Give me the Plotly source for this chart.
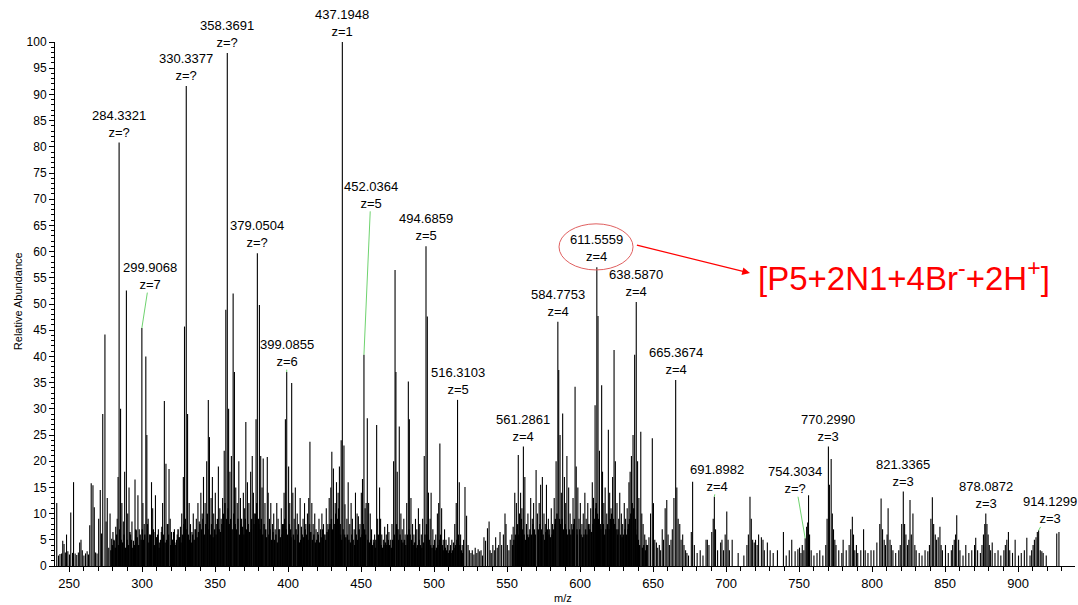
import plotly.graph_objects as go

# ---------------- data ----------------
peak_mz = [
    241.6, 242.8, 243.8, 244.9, 245.7, 246.6, 247.5, 248.3, 249.2, 250.3, 251.2, 252.4, 253.1, 254.2, 255.3,
    256.4, 257.3, 258.2, 259.1, 260.2, 261.3, 262.4, 263.3, 264.2, 265.2, 266.4, 267.3, 268.2, 269.2, 270.3,
    271.4, 272.3, 273.1, 274.6, 275.4, 276.2, 277.2, 278.1, 279.2, 280.1, 281.0, 282.0, 283.0, 283.6, 284.3,
    285.3, 286.2, 287.2, 288.1, 289.3, 290.2, 291.1, 292.2, 293.1, 294.2, 295.2, 296.1, 297.2, 298.1, 299.9,
    300.6, 301.5, 302.6, 303.3, 304.2, 305.2, 306.5, 307.3, 308.2, 309.2, 310.2, 311.2, 312.1, 313.2, 314.1,
    315.3, 316.4, 317.3, 318.5, 319.3, 320.2, 321.1, 322.2, 323.3, 324.1, 325.2, 326.3, 327.2, 328.3, 329.1,
    330.3, 331.2, 332.3, 333.2, 334.2, 335.1, 336.3, 337.2, 338.3, 339.2, 340.3, 341.2, 342.1, 343.2, 344.3,
    345.4, 346.2, 347.3, 348.2, 349.1, 350.2, 351.2, 352.3, 353.3, 354.2, 355.2, 356.3, 357.4, 358.4, 359.3,
    360.2, 361.2, 362.4, 363.3, 364.2, 365.2, 366.3, 367.4, 368.2, 369.4, 370.3, 371.1, 372.2, 373.2, 374.4,
    375.5, 376.3, 377.2, 378.1, 379.0, 380.4, 381.3, 382.2, 383.0, 384.2, 385.8, 386.4, 387.3, 388.2, 389.3,
    390.2, 391.2, 392.3, 393.2, 394.3, 395.4, 396.2, 397.3, 398.2, 399.1, 400.4, 401.2, 402.5, 403.3, 404.2,
    405.0, 406.3, 407.2, 408.3, 409.2, 410.3, 411.3, 412.2, 413.3, 414.2, 415.0, 416.3, 417.2, 418.3, 419.2,
    420.3, 421.2, 422.3, 423.2, 424.3, 425.4, 426.2, 427.3, 428.2, 429.3, 430.0, 431.1, 432.3, 433.2, 434.3,
    435.2, 436.4, 437.2, 438.3, 439.0, 440.3, 441.2, 442.3, 443.2, 444.1, 445.3, 446.2, 447.3, 448.2, 449.3,
    450.2, 451.0, 452.0, 452.8, 453.5, 454.3, 455.2, 456.3, 457.2, 458.4, 459.3, 460.7, 461.4, 462.7, 463.4,
    464.2, 465.3, 466.2, 467.3, 468.2, 469.1, 470.3, 471.2, 472.3, 473.3, 473.9, 474.8, 476.2, 477.3, 478.2,
    479.3, 480.2, 481.3, 482.4, 483.1, 484.2, 485.3, 486.2, 487.3, 488.2, 489.3, 490.2, 491.3, 492.2, 493.3,
    494.5, 495.4, 496.2, 497.3, 498.0, 499.2, 500.3, 501.2, 502.3, 503.2, 504.0, 505.2, 506.3, 507.2, 508.2,
    509.3, 510.2, 511.3, 512.2, 513.3, 514.2, 515.2, 516.1, 517.3, 518.2, 519.3, 520.2, 521.2, 522.3, 523.3,
    524.2, 525.3, 526.2, 527.3, 528.2, 529.3, 530.2, 531.3, 532.2, 533.2, 534.2, 535.3, 536.6, 537.7, 538.4,
    539.2, 540.3, 541.3, 542.2, 543.3, 544.3, 545.2, 546.3, 547.5, 548.6, 549.3, 550.2, 551.3, 552.2, 553.3,
    554.2, 555.3, 556.4, 557.7, 558.5, 559.3, 560.2, 561.2, 562.2, 563.3, 564.3, 565.2, 566.2, 567.3, 568.2,
    569.9, 570.8, 572.0, 573.0, 574.2, 575.3, 576.2, 577.0, 578.3, 579.2, 580.3, 581.2, 582.3, 583.6, 584.8,
    585.4, 586.3, 587.2, 588.1, 589.3, 590.2, 591.0, 592.2, 593.2, 594.3, 595.2, 596.6, 597.4, 598.5, 599.3,
    600.2, 601.3, 602.2, 603.3, 604.2, 605.3, 606.2, 607.3, 608.4, 609.2, 610.3, 611.5, 612.3, 613.3, 614.8,
    615.4, 616.3, 617.2, 618.3, 619.4, 620.3, 621.2, 622.3, 623.3, 624.2, 625.3, 626.5, 627.2, 628.3, 629.2,
    630.3, 631.2, 632.3, 633.5, 634.3, 635.2, 636.3, 637.4, 638.5, 639.4, 640.3, 641.6, 642.3, 643.2, 644.3,
    645.2, 646.3, 647.2, 648.3, 649.5, 650.3, 651.2, 652.3, 653.2, 654.3, 655.2, 656.3, 657.2, 658.3, 659.4,
    660.3, 661.2, 662.3, 663.2, 664.3, 665.5, 666.3, 667.2, 668.3, 669.2, 670.3, 671.2, 672.3, 673.2, 674.3,
    676.2, 677.1, 678.3, 680.2, 682.3, 684.2, 686.3, 687.2, 688.3, 690.2, 691.2, 692.0, 692.8, 694.2, 696.3,
    697.2, 698.3, 699.4, 700.5, 701.4, 702.3, 704.2, 708.3, 712.2, 714.3, 715.3, 716.4, 717.3, 718.2, 719.3,
    720.2, 721.3, 722.3, 724.2, 725.3, 726.2, 728.3, 730.2, 732.3, 735.2, 739.3, 741.2, 743.3, 745.0, 747.3,
    749.2, 750.3, 751.3, 752.2, 753.3, 754.2, 755.2, 755.9, 756.5, 757.2, 758.3, 760.2, 762.3, 764.2, 766.3,
    768.3, 769.2, 770.1, 770.8, 772.0, 772.8, 773.6, 774.5, 775.3, 777.2, 779.3, 780.2, 782.3, 784.3, 785.4,
    786.5, 787.3, 788.2, 789.3, 790.2, 792.3, 794.2, 795.3, 797.2, 799.3, 801.2, 803.3, 805.3, 806.2, 807.2,
    808.3, 809.2, 810.3, 811.0, 812.3, 813.2, 814.3, 816.2, 818.3, 819.3, 820.3, 821.4, 822.3, 823.2, 824.3,
    825.2, 826.0, 826.9, 828.0, 829.3, 830.2, 832.3, 834.2, 836.3, 838.2, 839.3, 840.3, 841.3, 842.2, 843.3,
    844.2, 845.3, 846.5, 847.3, 848.2, 850.3, 852.2, 854.3, 855.2, 856.3, 857.2, 858.0, 859.3, 860.2, 862.3,
    864.2, 866.3, 868.3, 870.2, 871.0, 872.3, 874.2, 875.3, 876.3, 877.2, 877.9, 878.7, 879.5, 880.3, 881.2,
    882.3, 884.2, 886.3, 888.2, 890.3, 891.3, 892.3, 893.4, 894.3, 896.2, 898.0, 900.3, 902.2, 904.3, 906.0,
    908.2, 909.3, 910.3, 911.2, 912.3, 913.2, 914.1, 915.2, 916.3, 917.2, 919.3, 926.5, 928.0,
]
peak_int = [
    12, 2, 2.3, 2.4, 4.8, 4.2, 2.6, 6, 2.8, 2.2, 10.2, 2.5, 16, 2.4, 2.1,
    2.6, 4.5, 5.0, 3.0, 2.0, 2.4, 2.8, 2.2, 7.8, 15.8, 15.4, 11.2, 2.6, 2.4, 9.0,
    14.5, 6.2, 29, 44.2, 8.5, 13, 3.5, 10, 5.2, 6.5, 4.8, 7.5, 9.0, 17, 80.8,
    30, 12, 8.5, 18, 52.6, 10, 15, 6, 8.5, 4.8, 16.5, 6.8, 13.5, 7, 45.4,
    12, 8, 40, 25, 9, 6, 16, 11, 6.5, 13.5, 5.5, 7, 4.5, 6.5, 12,
    31.5, 19.5, 8, 18.5, 9, 6.5, 5, 7, 4.5, 6, 5.5, 7.5, 10, 17, 45.7,
    91.6, 29, 12, 8, 6.5, 10, 7, 9, 12, 8.5, 14, 10, 17, 12, 20,
    31.7, 24.6, 13, 17, 10, 14, 8, 19, 11, 9, 13, 22, 48.9, 97.9, 30,
    18, 21, 52, 37, 15, 12, 20, 13, 9, 14, 11, 27.5, 16, 12, 18,
    21, 14, 10, 28, 59.7, 49.8, 21, 15, 20.5, 12, 20.8, 14, 9, 12, 8,
    10, 7, 12, 9, 7, 11, 8, 14, 28, 37, 19, 12, 34.9, 14, 9,
    15, 10, 8, 13, 7.5, 9, 12, 8, 10, 13, 23.7, 12, 8, 10, 7,
    6.5, 9, 7, 10, 8, 6, 11, 8, 13, 15, 21.8, 18.6, 12, 16, 14,
    19, 24, 100, 23, 11.8, 9, 16, 8, 12, 9, 7, 14, 10, 9.5, 8,
    14, 16.6, 40.3, 11, 12, 28.2, 12, 10, 7, 5, 6, 26.9, 9, 15, 9,
    6, 5, 7.5, 6, 8, 6.5, 5, 8, 20, 56.5, 37, 18, 26.6, 10, 7,
    9, 6, 12, 35.2, 28, 13, 8, 6, 9, 7, 11, 8, 6, 9, 21,
    61, 47.6, 14, 9, 14, 7, 5, 6, 10, 12, 23.4, 11, 5, 7, 5,
    4, 5.5, 4, 5, 4.5, 8, 12, 31.7, 16, 6, 4, 5, 15.1, 9.6, 4,
    3, 2.5, 3, 2.2, 3.5, 2.5, 3.2, 2.8, 3, 2, 5.5, 4.8, 7.2, 8.5, 3,
    2.5, 4, 3, 5.5, 3.5, 4, 6.5, 4, 6, 10, 8, 4, 3, 5, 6,
    7.5, 14, 12, 21.2, 10, 14, 11, 22.8, 17, 8, 10, 6, 13, 9, 12,
    18.3, 10, 12, 15.5, 17, 10, 8, 15.5, 9, 7, 11, 8, 13, 20, 46.6,
    37.4, 25, 14, 29.1, 17, 12, 21, 15, 10, 8, 13, 34.2, 19, 15, 9,
    12, 8, 10, 14, 9, 12, 8, 11, 16, 13, 30.7, 57, 47.7, 22, 34.5,
    18, 12, 15, 10, 26, 14, 11, 17, 41.2, 20, 12, 9, 14, 10, 8,
    12, 9, 11, 16, 18, 21, 25, 40.3, 50.4, 20, 13, 25.6, 10, 8, 6,
    5, 4, 5.5, 10, 24.4, 12, 5, 4.5, 3.5, 4, 3, 7, 5, 11, 12.6,
    6, 4, 5, 7, 13, 35.5, 15, 9, 8, 5, 6, 4, 3, 2.5, 2,
    6.5, 16.1, 4, 2.5, 3, 2, 5, 5, 4, 6.5, 9, 13.2, 7, 3, 4.5,
    5, 3, 6, 10.4, 5, 3, 5, 2.5, 2, 4, 6, 13.2, 9, 5, 4.5,
    5, 4, 6, 5.5, 5, 3, 4.5, 3, 2.5, 3, 6.5, 2, 3, 5, 2.8,
    3.2, 3.5, 2.5, 4, 3, 5.3, 7.5, 8.3, 13.5, 6, 3, 2, 2.5, 3, 2,
    4, 9, 22.8, 15.5, 20.4, 10, 7, 5, 4, 3, 2.5, 5, 3, 4, 7,
    9.4, 6, 3, 4, 2.5, 3, 7, 3, 2.5, 3, 3, 4.5, 8, 12.9, 7,
    5, 4, 6, 11, 5, 4, 3, 2.5, 3, 4, 8, 14.2, 8, 6, 4,
    5, 12.6, 6, 10, 4, 3, 2.5, 2, 3, 2.8, 4, 9, 13.1, 8, 6,
    5, 5.5, 7.5, 4, 3, 4, 2.5, 3, 4, 5, 6, 9.7, 5, 3, 2,
    4, 2.5, 3, 4, 5.4, 3, 2.5, 4, 6, 8, 10, 8, 6, 4, 3,
    4.5, 2.5, 3, 2, 3, 4, 5, 6.5, 3, 2.5, 5, 2, 2.5, 3, 5.4,
    2, 3, 4, 5, 5.5, 6.5, 6.8, 3, 2.8, 2.5, 2, 6.2, 6.5,
]

# dense low-level background peaks (the black "floor" of the spectrum)
floor_mz = [
    278.7, 279.7, 280.7, 281.7, 282.7, 283.9, 284.7, 285.7, 286.7, 287.7, 288.7, 289.8, 290.7, 291.7, 292.7,
    293.7, 294.7, 295.7, 296.7, 297.7, 298.7, 299.4,
    300.2, 301.1, 301.9, 303.7, 304.7, 305.7, 306.1, 307.7, 308.7, 309.7, 310.7, 311.7, 312.7, 313.7, 314.7,
    315.8, 316.9, 317.7, 318.1, 319.7,
    320.7, 321.7, 322.7, 323.7, 324.7, 325.7, 326.7, 327.7, 328.7, 329.6, 330.8, 331.7, 332.7, 333.7, 334.7,
    335.7, 336.7, 337.7, 338.7, 339.7,
    340.7, 341.7, 342.6, 343.7, 344.7, 345.9, 346.7, 347.7, 348.7, 349.7, 350.7, 351.7, 352.8, 353.7, 354.7,
    355.7, 356.8, 357.9, 358.9, 359.7,
    360.7, 361.7, 362.9, 363.8, 364.7, 365.7, 366.8, 367.8, 368.7, 369.8, 370.7, 371.6, 372.7, 373.7, 374.9,
    375.1, 376.7, 377.7, 378.6, 379.6,
    380.0, 380.9, 381.7, 382.7, 383.6, 384.7, 385.3, 386.9, 387.7, 388.7, 389.7, 390.7, 391.7, 392.7, 393.7,
    394.7, 395.9, 396.7, 397.8, 398.7,
    399.6, 400.9, 401.7, 402.1, 403.7, 404.7, 405.5, 406.7, 407.7, 408.7, 409.7, 410.7, 411.7, 412.7, 413.7,
    414.7, 415.6, 416.7, 417.7, 418.7,
    419.7, 420.7, 421.7, 422.7, 423.7, 424.7, 425.8, 426.7, 427.7, 428.7, 429.7, 430.5, 431.6, 432.7, 433.7,
    434.7, 435.7, 436.0, 436.8, 437.7, 438.7, 439.6, 440.7, 441.7, 442.7, 443.7, 444.6, 445.7,
    446.7, 447.7, 448.7, 449.7, 450.7, 451.5, 452.4, 453.1, 454.7, 455.7,
    456.7, 457.7, 458.9, 459.8, 460.2, 461.8, 462.2, 463.8, 464.7, 465.7,
    466.7, 467.7, 468.7, 469.6, 470.7, 471.7, 472.8, 474.3, 475.3, 475.8,
    476.7, 477.7, 478.7, 479.7, 480.7, 481.8, 482.9, 483.6, 484.7, 485.7,
    486.7, 487.7, 488.7, 489.8, 490.7, 491.7, 492.7, 493.8, 494.9, 495.9,
    496.7, 497.7, 498.6, 499.7, 500.7, 501.7, 502.7, 503.7, 504.5, 505.7,
    506.7, 507.7, 508.7, 509.7, 510.7, 511.7, 512.7, 513.7, 514.7, 515.7,
    516.6, 517.7, 518.7, 519.7,
    553.8, 554.7, 555.8, 556.9, 557.2, 558.0, 558.9, 559.8, 560.7, 561.7,
    562.7, 563.8, 564.8, 565.7, 566.7, 567.8, 568.7, 569.3, 571.4, 572.5,
    573.5, 574.7, 575.8, 576.6, 577.6, 578.8, 579.7, 580.8, 581.7, 582.8,
    583.1, 584.2, 585.9, 586.8, 587.7, 588.6, 589.8, 590.6, 591.6, 592.7,
    593.7, 594.8, 595.7, 596.1, 597.9, 598.0, 599.8, 600.7, 601.8, 602.7,
    603.8, 604.7, 605.8, 606.7, 607.8, 608.9, 609.7, 610.8, 611.1, 611.9,
    612.8, 613.8, 614.3, 615.9, 616.8, 617.7, 618.8, 619.9, 620.8, 621.7,
    622.8, 623.8, 624.7, 625.8, 626.0, 627.7, 628.8, 629.7, 630.8, 631.7,
    632.8, 633.1, 633.9, 634.8, 635.7, 636.8, 637.9, 638.0, 638.9, 639.9,
    640.8, 642.8, 643.7, 644.8, 645.7,
]
floor_int = [
    3, 4, 5, 3.5, 6, 4, 7, 5, 4.5, 6, 3.5, 5, 4, 6.5, 5,
    3.5, 4, 7, 5.5, 4, 6, 5,
    7, 5, 6, 8, 4.5, 6, 5, 7, 4, 5.5, 6, 3.5, 5, 7.5, 6,
    4.5, 5, 8, 6, 4,
    5, 6.5, 4, 5, 7, 5.5, 4.5, 6, 8, 9, 7, 6, 5, 4.5, 6,
    5, 7, 5.5, 6.5, 8,
    7, 9, 6, 8, 10, 7, 6, 8, 5.5, 7, 6, 9, 7, 6.5, 8,
    10, 12, 9, 11, 8,
    9, 7, 10, 8, 7, 9, 6, 8, 7.5, 6, 9, 7, 8, 6.5, 7,
    9, 8, 10, 12, 9,
    8, 7, 9, 6, 8, 7, 5.5, 6, 7, 5, 6.5, 5, 6, 4.5, 7,
    5.5, 6, 8, 9, 7,
    6, 8, 7, 5.5, 6, 5, 7, 6, 4.5, 5, 6, 5.5, 7, 6, 5,
    8, 6.5, 5, 6, 4.5,
    5, 6, 4.5, 5.5, 7, 6, 5, 6.5, 7, 8, 9, 7, 8, 10, 9,
    11, 8, 6, 5, 7, 6, 5.5, 6, 5, 4.5, 6, 5, 4,
    6, 5, 7, 5.5, 6, 8, 7, 6, 5, 4.5,
    5, 4, 4.5, 3.5, 5, 6, 5, 4, 3.5, 4,
    4.5, 4, 5, 4, 3.5, 5, 6, 8, 7, 5,
    6, 5, 4.5, 5, 4, 6, 7, 6, 5, 4,
    4.5, 3.5, 4, 5, 4, 3.5, 4.5, 6, 8, 6,
    5, 4, 3.5, 4, 3, 3.5, 4, 5, 6, 4,
    3, 3.5, 3, 2.5, 3, 2.5, 3, 3.5, 4, 5,
    6, 4, 3, 2.5,
    4, 5, 6, 7, 8, 6, 7, 9, 7, 6,
    5, 6, 5.5, 7, 6, 8, 7, 6, 7, 8,
    7, 6, 5, 6.5, 7, 6, 5.5, 6, 7, 8,
    9, 10, 9, 8, 9, 7, 8, 7, 6, 7,
    6, 7, 8, 9, 7, 6, 7, 6, 5.5, 6,
    7, 6, 8, 7, 6.5, 8, 9, 11, 12, 10,
    9, 8, 7, 8, 6, 7, 8, 7, 9, 10,
    9, 8, 7, 6, 7, 6, 5.5, 6, 7, 6,
    7, 8, 9, 10, 12, 11, 9, 7, 6, 5,
    4, 3.5, 4, 3, 4,
]

# labelled peaks: anchor m/z, height, label text
label_mz = [284.3, 330.3, 358.4, 437.2, 379.0, 299.9, 399.1, 452.0, 494.5, 516.1,
            561.2, 584.8, 611.5, 638.5, 665.5, 692.0, 754.2, 770.1, 821.4, 877.9, 914.1]
label_int = [80.8, 91.6, 97.9, 100, 59.7, 45.4, 37, 40.3, 61, 31.7,
             22.8, 46.6, 57, 50.4, 35.5, 13.2, 5.3, 22.8, 14.2, 10, 6.8]
label_text = ["284.3321", "330.3377", "358.3691", "437.1948", "379.0504", "299.9068", "399.0855",
              "452.0364", "494.6859", "516.3103", "561.2861", "584.7753", "611.5559", "638.5870",
              "665.3674", "691.8982", "754.3034", "770.2990", "821.3365", "878.0872", "914.1299"]
label_z = ["z=?", "z=?", "z=?", "z=1", "z=?", "z=7", "z=6", "z=5", "z=5", "z=5",
           "z=4", "z=4", "z=4", "z=4", "z=4", "z=4", "z=?", "z=3", "z=3", "z=3", "z=3"]

x_ticks = [250, 300, 350, 400, 450, 500, 550, 600, 650, 700, 750, 800, 850, 900]
y_ticks = list(range(0, 101, 5))

# ---------------- figure ----------------
def sticks(mz, inten):
    xs, ys = [], []
    for m, h in zip(mz, inten):
        xs += [m, m, None]
        ys += [0, h, None]
    return xs, ys

fig = go.Figure()
fx, fy = sticks(floor_mz, floor_int)
fig.add_trace(go.Scatter(x=fx, y=fy, mode="lines", line=dict(color="black", width=1.5),
                         hoverinfo="skip", showlegend=False))
px_, py_ = sticks(peak_mz, peak_int)
fig.add_trace(go.Scatter(x=px_, y=py_, mode="lines", line=dict(color="black", width=1.1),
                         hoverinfo="skip", showlegend=False))

# label offsets in pixels (ax, ay) for labels that use a green leader line
leader = {"299.9068": (8, -52), "452.0364": (7, -160), "754.3034": (-10, -58),
          "914.1299": (11, -20), "691.8982": (3, -19), "399.0855": (0, -19)}

label_font = dict(family="Arial", size=13, color="black")
annots = []
for m, h, t, z in zip(label_mz, label_int, label_text, label_z):
    txt = f"{t}<br>{z}"
    if t in leader:
        ax, ay = leader[t]
        annots.append(dict(x=m, y=h, xref="x", yref="y", text=txt, showarrow=True,
                           ax=ax, ay=ay, arrowhead=0, arrowwidth=1, arrowcolor="#6fd36f",
                           font=label_font, borderpad=0))
    else:
        annots.append(dict(x=m, y=h, xref="x", yref="y", text=txt, showarrow=False,
                           yanchor="bottom", yshift=1, font=label_font))

# red arrow and formula
annots.append(dict(x=716.4, y=55.9, xref="x", yref="y", ax=637.9, ay=61.3, axref="x", ayref="y",
                   text="", showarrow=True, arrowhead=2, arrowsize=1.3, arrowwidth=1.2,
                   arrowcolor="red"))
annots.append(dict(x=720.8, y=55.4, xref="x", yref="y", xanchor="left", yanchor="middle",
                   text="[P5+2N1+4Br<sup>-</sup>+2H<sup>+</sup>]", showarrow=False,
                   font=dict(family="Arial", size=33, color="red")))
# axis titles
annots.append(dict(x=-0.0355, y=0.505, xref="paper", yref="paper", text="Relative Abundance",
                   textangle=-90, showarrow=False, xanchor="center",
                   font=dict(family="Arial", size=11, color="black")))
annots.append(dict(x=0.498, y=-0.061, xref="paper", yref="paper", text="m/z",
                   showarrow=False, yanchor="middle",
                   font=dict(family="Arial", size=11, color="black")))

fig.update_layout(
    width=1078, height=605,
    margin=dict(l=55, r=3, t=42, b=39),
    paper_bgcolor="white", plot_bgcolor="white",
    annotations=annots,
    shapes=[dict(type="circle", xref="x", yref="y", x0=585.6, x1=636.3, y0=56.5, y1=65.3,
                 line=dict(color="#e06060", width=1))],
    xaxis=dict(range=[240.4, 939.0], tickvals=x_ticks, ticks="outside", ticklen=5,
               tickcolor="black", showline=True, linecolor="black", linewidth=1,
               showgrid=False, zeroline=False,
               tickfont=dict(family="Arial", size=13, color="black"),
               minor=dict(dtick=10, tick0=0, ticks="outside", ticklen=4, tickcolor="black")),
    yaxis=dict(range=[0, 100], tickvals=y_ticks, ticks="outside", ticklen=5,
               tickcolor="black", showline=True, linecolor="black", linewidth=1,
               showgrid=False, zeroline=False,
               tickfont=dict(family="Arial", size=12, color="black"),
               minor=dict(dtick=1, tick0=0, ticks="outside", ticklen=3, tickcolor="black")),
)

fig.write_html("out.html")
